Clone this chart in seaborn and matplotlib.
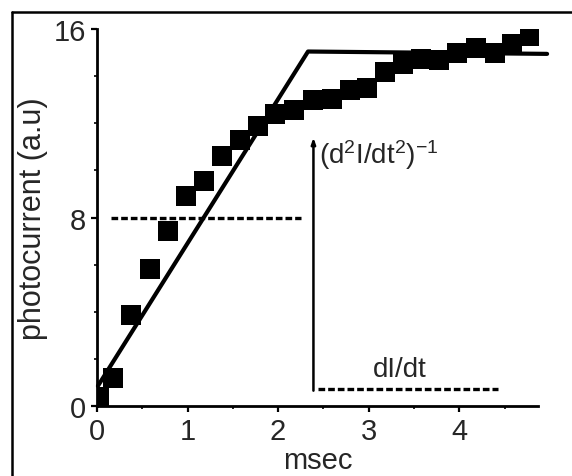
import matplotlib
matplotlib.use("Agg")
import pandas as pd
import seaborn as sns
from matplotlib import pyplot as plt
from matplotlib.lines import Line2D
from matplotlib.ticker import MultipleLocator

# measured points (squares)
time_ms = [0.02, 0.18, 0.38, 0.58, 0.78, 0.98, 1.18, 1.38, 1.58, 1.78, 1.97, 2.18, 2.39,
           2.59, 2.79, 2.98, 3.18, 3.38, 3.58, 3.78, 3.98, 4.18, 4.39, 4.58, 4.78]
photocurrent = [0.4, 1.2, 3.85, 5.8, 7.43, 8.9, 9.57, 10.6, 11.3, 11.9, 12.4, 12.55, 13.0,
                13.05, 13.4, 13.5, 14.2, 14.5, 14.75, 14.7, 15.0, 15.2, 15.0, 15.35, 15.7]

# piecewise linear fit
fit_t = [0.01, 2.33, 4.97]
fit_i = [0.85, 15.05, 14.95]

# dotted guide levels
d2_t = [0.15, 2.25]
d2_level = 8.0
d1_t = [2.44, 4.43]
d1_level = 0.73
arrow_t = 2.39
arrow_lo, arrow_hi = 0.65, 11.4

x_ticks = [0, 1, 2, 3, 4]
y_ticks = [0, 8, 16]

sns.set_style("ticks")
plt.rcParams['font.family'] = ['Liberation Sans', 'DejaVu Sans']
plt.rcParams['mathtext.fontset'] = 'custom'
plt.rcParams['mathtext.rm'] = 'Liberation Sans'
plt.rcParams['mathtext.it'] = 'Liberation Sans'
plt.rcParams['mathtext.bf'] = 'Liberation Sans'

fig = plt.figure(figsize=(5.72, 4.77), dpi=100)
ax = fig.add_axes([0.1696, 0.1468, 0.771, 0.79])

pts = pd.DataFrame({"t": time_ms, "i": photocurrent})
sns.scatterplot(data=pts, x="t", y="i", marker="s", s=210, color="black",
                edgecolor="black", linewidth=0, ax=ax, zorder=3)

fit = pd.DataFrame({"t": fit_t, "i": fit_i})
sns.lineplot(data=fit, x="t", y="i", color="black", lw=3, estimator=None,
             sort=False, ax=ax, clip_on=False, zorder=4)

dash = (0, (2.0, 0.9))
ax.plot(d2_t, [d2_level, d2_level], color="black", lw=2.4, ls=dash)
ax.plot(d1_t, [d1_level, d1_level], color="black", lw=2.4, ls=dash)
ax.annotate("", xy=(arrow_t, arrow_hi), xytext=(arrow_t, arrow_lo),
            arrowprops=dict(arrowstyle="-|>,head_length=0.35,head_width=0.12",
                            color="black", lw=1.8, shrinkA=0, shrinkB=0))

ax.text(2.45, 10.7, r"(d$^{2}$I/dt$^{2}$)$^{-1}$", fontsize=20, va="center", ha="left")
ax.text(3.05, 1.55, "dI/dt", fontsize=20, va="center", ha="left")

ax.set_xlim(0, 4.87)
ax.set_ylim(0, 16)
ax.set_xticks(x_ticks)
ax.set_yticks(y_ticks)
ax.xaxis.set_minor_locator(MultipleLocator(0.5))
ax.yaxis.set_minor_locator(MultipleLocator(2))
ax.tick_params(which="major", length=4, width=1.6, labelsize=21, pad=4, color="black")
ax.tick_params(which="minor", length=2.5, width=1.2, color="black")
ax.set_xlabel("msec", fontsize=21, labelpad=1)
ax.set_ylabel("photocurrent (a.u)", fontsize=22, labelpad=4)
for side in ["top", "right"]:
    ax.spines[side].set_visible(False)
for side in ["left", "bottom"]:
    ax.spines[side].set_linewidth(2.0)
    ax.spines[side].set_color("black")

# outer frame of the scanned panel
fig.add_artist(Line2D([0.021, 0.021], [0.0, 0.973], transform=fig.transFigure,
                      color="black", lw=1.8))
fig.add_artist(Line2D([0.021, 1.0], [0.973, 0.973], transform=fig.transFigure,
                      color="black", lw=1.8))

fig.savefig("out.png", dpi=100)
